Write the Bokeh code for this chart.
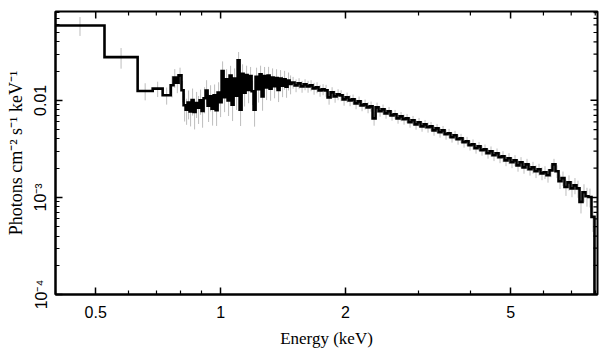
import numpy as np
from bokeh.plotting import figure
from bokeh.models import Range1d, FixedTicker
from bokeh.embed import file_html
from bokeh.resources import INLINE

# ---- data ----
energy_edges = [
    0.400, 0.525, 0.631, 0.686, 0.725, 0.758, 0.770, 0.781, 0.792, 0.805,
    0.8144, 0.8236, 0.8326, 0.8419, 0.8513, 0.8608, 0.8705, 0.8801, 0.8899, 0.8999,
    0.9099, 0.9202, 0.9304, 0.9408, 0.9512, 0.9619, 0.9727, 0.9835, 0.9945, 1.0056,
    1.0168, 1.0281, 1.0396, 1.0512, 1.0629, 1.0748, 1.0867, 1.0990, 1.1112, 1.1236,
    1.1361, 1.1488, 1.1617, 1.1746, 1.1877, 1.2009, 1.2143, 1.2279, 1.2416, 1.2554,
    1.2694, 1.2836, 1.2980, 1.3124, 1.3271, 1.3419, 1.3568, 1.3720, 1.3874, 1.4028,
    1.4185, 1.4343, 1.4501, 1.4666, 1.4829,
    1.5077, 1.5330, 1.5588, 1.5849, 1.6114, 1.6386, 1.6661, 1.6940, 1.7223, 1.7515,
    1.7809, 1.8107, 1.8414, 1.8723, 1.9037, 1.9356, 1.9683, 2.0011, 2.0346, 2.0690,
    2.1036, 2.1388, 2.1746, 2.2114, 2.2484, 2.2860, 2.3247, 2.3636, 2.4031, 2.4434,
    2.4842, 2.5258, 2.5681, 2.6116, 2.6553, 2.6998, 2.7455, 2.7914, 2.8381, 2.8855,
    2.9344, 2.9835, 3.0334, 3.0848, 3.1364, 3.1889, 3.2422, 3.2972, 3.3523, 3.4084,
    3.4662, 3.5242, 3.5831, 3.6430, 3.7048, 3.7667, 3.8297, 3.8946, 3.9597, 4.0259,
    4.0932, 4.1626, 4.2322, 4.3030, 4.3752, 4.4484, 4.5228, 4.5995, 4.6764, 4.7546,
    4.8341, 4.9161, 4.9983, 5.0819, 5.1681, 5.2545, 5.3424, 5.4317, 5.5238, 5.6161,
    5.7101, 5.8069, 5.9040, 6.0027, 6.1030, 6.2064, 6.3096, 6.4151, 6.5238, 6.6329,
    6.7438, 6.8566, 6.9728, 7.0894, 7.2079, 7.3301, 7.4527, 7.5773, 7.7040, 7.8343,
    7.9653, 8.0983,
]

flux = [
    0.0591, 0.0279, 0.0125, 0.0132, 0.0113, 0.0143, 0.0172, 0.0152, 0.0181, 0.0127,
    0.0089, 0.0080, 0.0095, 0.0077, 0.0101, 0.0076, 0.0094, 0.0084, 0.0100, 0.0078,
    0.0105, 0.0126, 0.0088, 0.0110, 0.0082, 0.0113, 0.0079, 0.0120, 0.0096, 0.0200,
    0.0108, 0.0165, 0.0100, 0.0180, 0.0090, 0.0168, 0.0112, 0.0258, 0.0080, 0.0188,
    0.0120, 0.0182, 0.0128, 0.0178, 0.0124, 0.0080, 0.0175, 0.0130, 0.0185, 0.0110,
    0.0178, 0.0136, 0.0180, 0.0132, 0.0172, 0.0140, 0.0170, 0.0128, 0.0168, 0.0142,
    0.0165, 0.0138, 0.0160, 0.0148,
    0.0153, 0.01427, 0.01496, 0.01393, 0.01461, 0.01393, 0.01427, 0.01329, 0.0136, 0.01267,
    0.01298, 0.01267, 0.01074, 0.01209, 0.01099, 0.01153, 0.01126, 0.01024, 0.01074, 0.0100,
    0.01024, 0.00931, 0.00977, 0.00888, 0.00910, 0.00847, 0.00868, 0.00653, 0.00847, 0.00771,
    0.00808, 0.00735, 0.00771, 0.00701, 0.00718, 0.00653, 0.00684, 0.00638, 0.00653, 0.00594,
    0.00623, 0.00566, 0.00594, 0.00540, 0.00566, 0.00528, 0.00540, 0.00491, 0.00515, 0.00469,
    0.00491, 0.00447, 0.00458, 0.00417, 0.00437, 0.00397, 0.00407, 0.00370, 0.00379, 0.00345,
    0.00353, 0.00321, 0.00336, 0.00306, 0.00313, 0.00285, 0.00299, 0.00272, 0.00285, 0.00259,
    0.00265, 0.00241, 0.00253, 0.00230, 0.00241, 0.00214, 0.00230, 0.00204, 0.00219, 0.00195,
    0.00204, 0.00186, 0.00195, 0.00177, 0.00182, 0.00169, 0.00190, 0.00219, 0.00186, 0.00147,
    0.00158, 0.00128, 0.00143, 0.00124, 0.00133, 0.00124, 0.00090, 0.00113, 0.00103, 0.00101,
    0.00063, 0.000001,
]

rel_err = [
    0.22, 0.24, 0.20, 0.18, 0.20, 0.25, 0.22, 0.22, 0.20, 0.25,
    0.32, 0.30, 0.33, 0.30, 0.31, 0.34, 0.30, 0.32, 0.29, 0.33,
    0.30, 0.28, 0.32, 0.30, 0.33, 0.29, 0.31, 0.28, 0.30, 0.26,
    0.30, 0.27, 0.31, 0.26, 0.32, 0.27, 0.29, 0.22, 0.32, 0.25,
    0.28, 0.25, 0.27, 0.24, 0.28, 0.33, 0.24, 0.27, 0.23, 0.29,
    0.24, 0.26, 0.23, 0.25, 0.24, 0.25, 0.23, 0.25, 0.22, 0.24,
    0.22, 0.23, 0.21, 0.22,
    0.14, 0.15, 0.13, 0.14, 0.13, 0.14, 0.13, 0.14, 0.13, 0.14,
    0.13, 0.14, 0.16, 0.13, 0.14, 0.13, 0.13, 0.14, 0.12, 0.13,
    0.12, 0.13, 0.12, 0.13, 0.12, 0.13, 0.12, 0.16, 0.12, 0.12,
    0.12, 0.12, 0.11, 0.12, 0.11, 0.12, 0.11, 0.12, 0.11, 0.12,
    0.11, 0.12, 0.11, 0.12, 0.11, 0.12, 0.11, 0.12, 0.11, 0.12,
    0.11, 0.12, 0.11, 0.12, 0.11, 0.12, 0.11, 0.12, 0.11, 0.12,
    0.12, 0.12, 0.11, 0.12, 0.12, 0.12, 0.12, 0.13, 0.12, 0.13,
    0.13, 0.13, 0.13, 0.13, 0.13, 0.14, 0.13, 0.14, 0.14, 0.14,
    0.14, 0.15, 0.14, 0.15, 0.15, 0.16, 0.15, 0.14, 0.15, 0.17,
    0.17, 0.19, 0.18, 0.19, 0.19, 0.20, 0.24, 0.21, 0.22, 0.22,
    0.30, 0.0,
]

x_ticks = [0.5, 1.0, 2.0, 5.0]
x_minor = [0.4, 0.6, 0.7, 0.8, 0.9, 3.0, 4.0, 6.0, 7.0, 8.0]
x_labels = {0.5: "0.5", 1.0: "1", 2.0: "2", 5.0: "5"}
y_ticks = [1e-4, 1e-3, 1e-2, 1e-1]
y_minor = [2e-4, 3e-4, 4e-4, 5e-4, 6e-4, 7e-4, 8e-4, 9e-4,
           2e-3, 3e-3, 4e-3, 5e-3, 6e-3, 7e-3, 8e-3, 9e-3,
           2e-2, 3e-2, 4e-2, 5e-2, 6e-2, 7e-2, 8e-2, 9e-2]
y_labels = {1e-4: "10⁻⁴", 1e-3: "10⁻³", 1e-2: "0.01"}

x_title = "Energy (keV)"
y_title = "Photons cm⁻² s⁻¹ keV⁻¹"

X_MIN, X_MAX = 0.40, 8.1
Y_MIN, Y_MAX = 1e-4, 0.0823

# ---- figure ----
p = figure(width=605, height=353, x_axis_type="log", y_axis_type="log",
           x_range=Range1d(X_MIN, X_MAX), y_range=Range1d(Y_MIN, Y_MAX),
           output_backend="svg", toolbar_location=None,
           min_border_left=55, min_border_right=8, min_border_top=11, min_border_bottom=59)
p.grid.visible = False
p.outline_line_color = "black"
p.outline_line_width = 2
p.background_fill_color = "white"
p.border_fill_color = "white"

edges = np.array(energy_edges)
f = np.array(flux)
e = np.array(rel_err)
centers = np.sqrt(edges[:-1] * edges[1:])
mask = e > 0
p.segment(x0=centers[mask], y0=(f * (1 - e))[mask], x1=centers[mask], y1=(f * (1 + e))[mask],
          line_color="#bdbdbd", line_width=1)

xs = np.repeat(edges, 2)[1:-1]
ys = np.repeat(f, 2)
p.line(xs, ys, line_color="black", line_width=2.6, line_join="miter")

# mirrored inward ticks on the top and right frame edges
vis_xmaj = [t for t in x_ticks if X_MIN <= t <= X_MAX]
vis_xmin = [t for t in x_minor if X_MIN <= t <= X_MAX]
vis_ymaj = [t for t in y_ticks if Y_MIN <= t <= Y_MAX]
vis_ymin = [t for t in y_minor if Y_MIN <= t <= Y_MAX]
p.ray(x=vis_xmaj, y=[Y_MAX] * len(vis_xmaj), length=7, length_units="screen",
      angle=-np.pi / 2, line_color="black", line_width=1.5)
p.ray(x=vis_xmin, y=[Y_MAX] * len(vis_xmin), length=4, length_units="screen",
      angle=-np.pi / 2, line_color="black", line_width=1.2)
p.ray(x=[X_MAX] * len(vis_ymaj), y=vis_ymaj, length=7, length_units="screen",
      angle=np.pi, line_color="black", line_width=1.5)
p.ray(x=[X_MAX] * len(vis_ymin), y=vis_ymin, length=4, length_units="screen",
      angle=np.pi, line_color="black", line_width=1.2)

def style(ax):
    ax.major_tick_in = 7
    ax.major_tick_out = 0
    ax.minor_tick_in = 4
    ax.minor_tick_out = 0
    ax.major_tick_line_color = "black"
    ax.minor_tick_line_color = "black"
    ax.major_tick_line_width = 1.5
    ax.minor_tick_line_width = 1.2
    ax.axis_line_color = "black"
    ax.axis_line_width = 2
    ax.major_label_text_font = "Liberation Sans"
    ax.major_label_text_font_size = "16px"
    ax.major_label_text_color = "black"
    ax.axis_label_text_font = "Liberation Serif"
    ax.axis_label_text_font_size = "17px"
    ax.axis_label_text_font_style = "normal"
    ax.axis_label_text_color = "black"

xa = p.xaxis[0]
xa.ticker = FixedTicker(ticks=x_ticks, minor_ticks=x_minor)
xa.major_label_overrides = x_labels
xa.axis_label = x_title
style(xa)
xa.major_label_standoff = 11
xa.axis_label_standoff = 8

ya = p.yaxis[0]
ya.ticker = FixedTicker(ticks=y_ticks, minor_ticks=y_minor)
ya.major_label_overrides = y_labels
ya.axis_label = y_title
style(ya)
ya.axis_label_text_font_size = "18px"
ya.major_label_orientation = "vertical"
ya.major_label_standoff = 6
ya.axis_label_standoff = 4

open("out.html", "w").write(file_html(p, INLINE))
